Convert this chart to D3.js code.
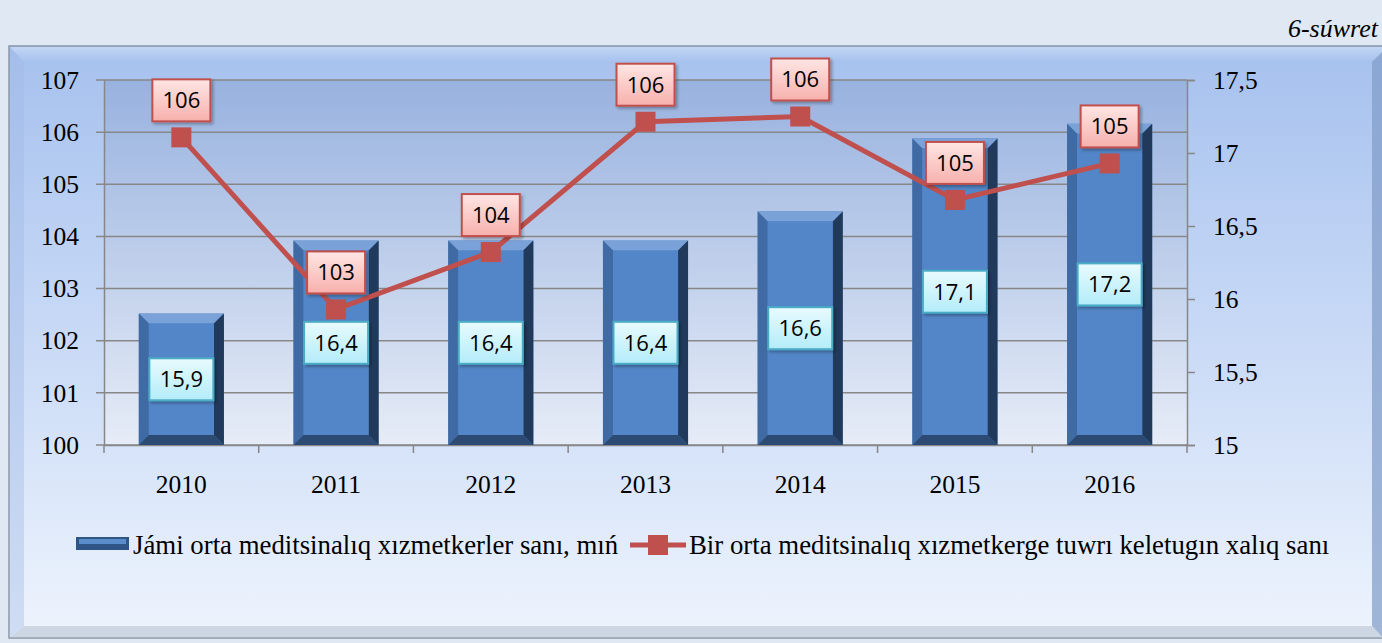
<!DOCTYPE html>
<html lang="en">
<head>
<meta charset="UTF-8">
<script src="https://d3js.org/d3.v7.min.js"></script>
<title>6-súwret</title>
<style>
  body { margin: 0; background: #dfe8f3; }
  svg { display: block; }
</style>
</head>
<body>
<script>
// data
var years = ["2010", "2011", "2012", "2013", "2014", "2015", "2016"];
var workers = [15.9, 16.4, 16.4, 16.4, 16.6, 17.1, 17.2];          // bars, right axis
var people = [105.9, 102.6, 103.7, 106.2, 106.3, 104.7, 105.4];    // line, left axis
var peopleLabels = ["106", "103", "104", "106", "106", "105", "105"];
var leftTicks = [100, 101, 102, 103, 104, 105, 106, 107];
var rightTicks = [15, 15.5, 16, 16.5, 17, 17.5];
var seriesNames = ["Jámi orta meditsinalıq xızmetkerler sanı, mıń",
                   "Bir orta meditsinalıq xızmetkerge tuwrı keletugın xalıq sanı"];

var W = 1382, H = 643;
var plot = {left: 104, right: 1187, top: 80, bottom: 445};
var fmt = d3.formatLocale({decimal: ",", thousands: " ", grouping: [3], currency: ["", ""]}).format;
var SERIF = "'Liberation Serif', serif";
var LABEL = "'Open Sans', sans-serif";

var svg = d3.select("body").append("svg").attr("width", W).attr("height", H);
var defs = svg.append("defs");

function vgrad(id, stops) {
    var g = defs.append("linearGradient").attr("id", id)
        .attr("x1", 0).attr("y1", 0).attr("x2", 0).attr("y2", 1);
    stops.forEach(function(s) { g.append("stop").attr("offset", s[0]).attr("stop-color", s[1]); });
}
vgrad("frameG", [[0, "#a6c1ee"], [0.5, "#c9daf6"], [1, "#eef4fd"]]);
vgrad("plotG", [[0, "#98b2df"], [1, "#e6ecf7"]]);
vgrad("redBox", [[0, "#ffe6e4"], [1, "#f7b0ac"]]);
vgrad("cyanBox", [[0, "#e8fbfe"], [1, "#b3ecf9"]]);
vgrad("bevelTop", [[0, "#c9dcf6"], [1, "#a6c1ee"]]);

var sh = defs.append("filter").attr("id", "shadow").attr("x", "-20%").attr("y", "-20%")
    .attr("width", "150%").attr("height", "160%");
sh.append("feDropShadow").attr("dx", 2).attr("dy", 2).attr("stdDeviation", 1.5)
    .attr("flood-color", "#000").attr("flood-opacity", 0.3);

// page title
svg.append("text").attr("x", 1378).attr("y", 37).attr("text-anchor", "end")
    .style("font-family", SERIF).style("font-style", "italic").style("font-size", "26px").text("6-súwret");

// outer frame
svg.append("rect").attr("x", 9).attr("y", 46).attr("width", 1380).attr("height", 592)
    .attr("fill", "url(#frameG)").attr("stroke", "#8a97a8").attr("stroke-width", 1.5);
svg.append("polygon").attr("points", "10,47 1382,47 1382,62 24,62")
    .attr("fill", "url(#bevelTop)").attr("opacity", 0.8);
svg.append("polygon").attr("points", "10,47 24,62 24,626 10,637")
    .attr("fill", "#9fb9e6").attr("opacity", 0.4);
svg.append("polygon").attr("points", "1372,62 1382,52 1382,637 1372,626")
    .attr("fill", "#7f9bc8").attr("opacity", 0.7);
svg.append("polygon").attr("points", "24,626 1372,626 1382,637 10,637")
    .attr("fill", "#c4cfdd").attr("opacity", 0.8);

// scales
var x = d3.scaleBand().domain(years).range([plot.left, plot.right]).paddingInner(0.45).paddingOuter(0.225);
var xc = function(d) { return x(d) + x.bandwidth() / 2; };
var yL = d3.scaleLinear().domain([100, 107]).range([plot.bottom, plot.top]);
var yR = d3.scaleLinear().domain([15, 17.5]).range([plot.bottom, plot.top]);

// plot area
svg.append("rect").attr("x", plot.left).attr("y", plot.top)
    .attr("width", plot.right - plot.left).attr("height", plot.bottom - plot.top)
    .attr("fill", "url(#plotG)");

// gridlines
svg.append("g").selectAll("line").data(leftTicks).join("line")
    .attr("x1", plot.left - 8).attr("x2", plot.right)
    .attr("y1", function(d) { return yL(d); }).attr("y2", function(d) { return yL(d); })
    .attr("stroke", "#878787").attr("stroke-width", 1.5);

// axes
var gL = svg.append("g").attr("transform", "translate(" + plot.left + ",0)")
    .call(d3.axisLeft(yL).tickValues(leftTicks).tickSize(0).tickPadding(25).tickFormat(d3.format("d")));
var gR = svg.append("g").attr("transform", "translate(" + plot.right + ",0)")
    .call(d3.axisRight(yR).tickValues(rightTicks).tickSize(8).tickPadding(18).tickFormat(fmt(".2~f")));
var gB = svg.append("g").attr("transform", "translate(0," + plot.bottom + ")")
    .call(d3.axisBottom(x).tickSize(0).tickPadding(30));
[gL, gR, gB].forEach(function(g) {
    g.selectAll("path.domain").attr("stroke", "#878787").attr("stroke-width", 1.5);
    g.selectAll(".tick line").attr("stroke", "#878787").attr("stroke-width", 1.5);
    g.selectAll("text").style("font-family", SERIF).style("font-size", "25.5px").attr("fill", "#000");
});
// category separator ticks
var seps = years.map(function(d) { return x(d) - x.step() * x.paddingInner() / 2; }).concat([plot.right]);
svg.append("g").selectAll("line").data(seps).join("line")
    .attr("x1", function(d) { return d; }).attr("x2", function(d) { return d; })
    .attr("y1", plot.bottom).attr("y2", plot.bottom + 8)
    .attr("stroke", "#878787").attr("stroke-width", 1.5);

// bars with bevel
var bev = 10;
var bars = svg.append("g").selectAll("g").data(workers).join("g")
    .attr("transform", function(d, i) { return "translate(" + x(years[i]) + "," + yR(d) + ")"; });
bars.each(function(d) {
    var g = d3.select(this), w = x.bandwidth(), h = plot.bottom - yR(d);
    g.append("rect").attr("width", w).attr("height", h).attr("fill", "#4f81bd");
    g.append("polygon").attr("points", [[0,0],[w,0],[w-bev,bev],[bev,bev]].join(" ")).attr("fill", "#7aa2d9");
    g.append("polygon").attr("points", [[0,0],[bev,bev],[bev,h-bev],[0,h]].join(" ")).attr("fill", "#3f6aa3");
    g.append("polygon").attr("points", [[w,0],[w,h],[w-bev,h-bev],[w-bev,bev]].join(" ")).attr("fill", "#213a5c");
    g.append("polygon").attr("points", [[0,h],[w,h],[w-bev,h-bev],[bev,h-bev]].join(" ")).attr("fill", "#2c4a72");
    g.append("rect").attr("x", bev).attr("y", bev).attr("width", w - 2 * bev).attr("height", Math.max(0, h - 2 * bev))
        .attr("fill", "#5386c8");
});

// line
var line = d3.line().x(function(d, i) { return xc(years[i]); }).y(function(d) { return yL(d); });
svg.append("path").datum(people).attr("d", line).attr("fill", "none")
    .attr("stroke", "#c0504d").attr("stroke-width", 5);
svg.append("g").selectAll("rect").data(people).join("rect")
    .attr("x", function(d, i) { return xc(years[i]) - 10; })
    .attr("y", function(d) { return yL(d) - 10; })
    .attr("width", 20).attr("height", 20).attr("fill", "#c0504d");

// data label boxes
function labelBox(g, cx, cy, txt, w, fill, stroke) {
    g.append("rect").attr("x", cx - w / 2).attr("y", cy - 21).attr("width", w).attr("height", 42)
        .attr("fill", fill).attr("stroke", stroke).attr("stroke-width", 2).attr("filter", "url(#shadow)");
    g.append("text").attr("x", cx).attr("y", cy).attr("dy", "0.36em").attr("text-anchor", "middle")
        .style("font-family", LABEL).style("font-size", "22px").attr("fill", "#000").text(txt);
}
var lbl = svg.append("g");
workers.forEach(function(d, i) {
    labelBox(lbl, xc(years[i]), (yR(d) + plot.bottom) / 2, fmt(".1f")(d), 64, "url(#cyanBox)", "#4bacc6");
});
people.forEach(function(d, i) {
    labelBox(lbl, xc(years[i]), yL(d) - 37, peopleLabels[i], 58, "url(#redBox)", "#c0504d");
});

// legend
var lg = svg.append("g").attr("transform", "translate(0,545)");
lg.append("rect").attr("x", 76).attr("y", -8).attr("width", 53).attr("height", 13).attr("fill", "#2f5587");
lg.append("rect").attr("x", 79).attr("y", -6).attr("width", 47).attr("height", 5).attr("fill", "#5a8bcb");
lg.append("text").attr("x", 133).attr("y", 0).attr("dy", "0.35em")
    .style("font-family", SERIF).style("font-size", "26.8px").text(seriesNames[0]);
lg.append("line").attr("x1", 630).attr("x2", 686).attr("y1", 0).attr("y2", 0)
    .attr("stroke", "#c0504d").attr("stroke-width", 5);
lg.append("rect").attr("x", 648).attr("y", -10).attr("width", 20).attr("height", 20).attr("fill", "#c0504d");
lg.append("text").attr("x", 689).attr("y", 0).attr("dy", "0.35em")
    .style("font-family", SERIF).style("font-size", "26.8px").text(seriesNames[1]);
</script>
</body>
</html>
